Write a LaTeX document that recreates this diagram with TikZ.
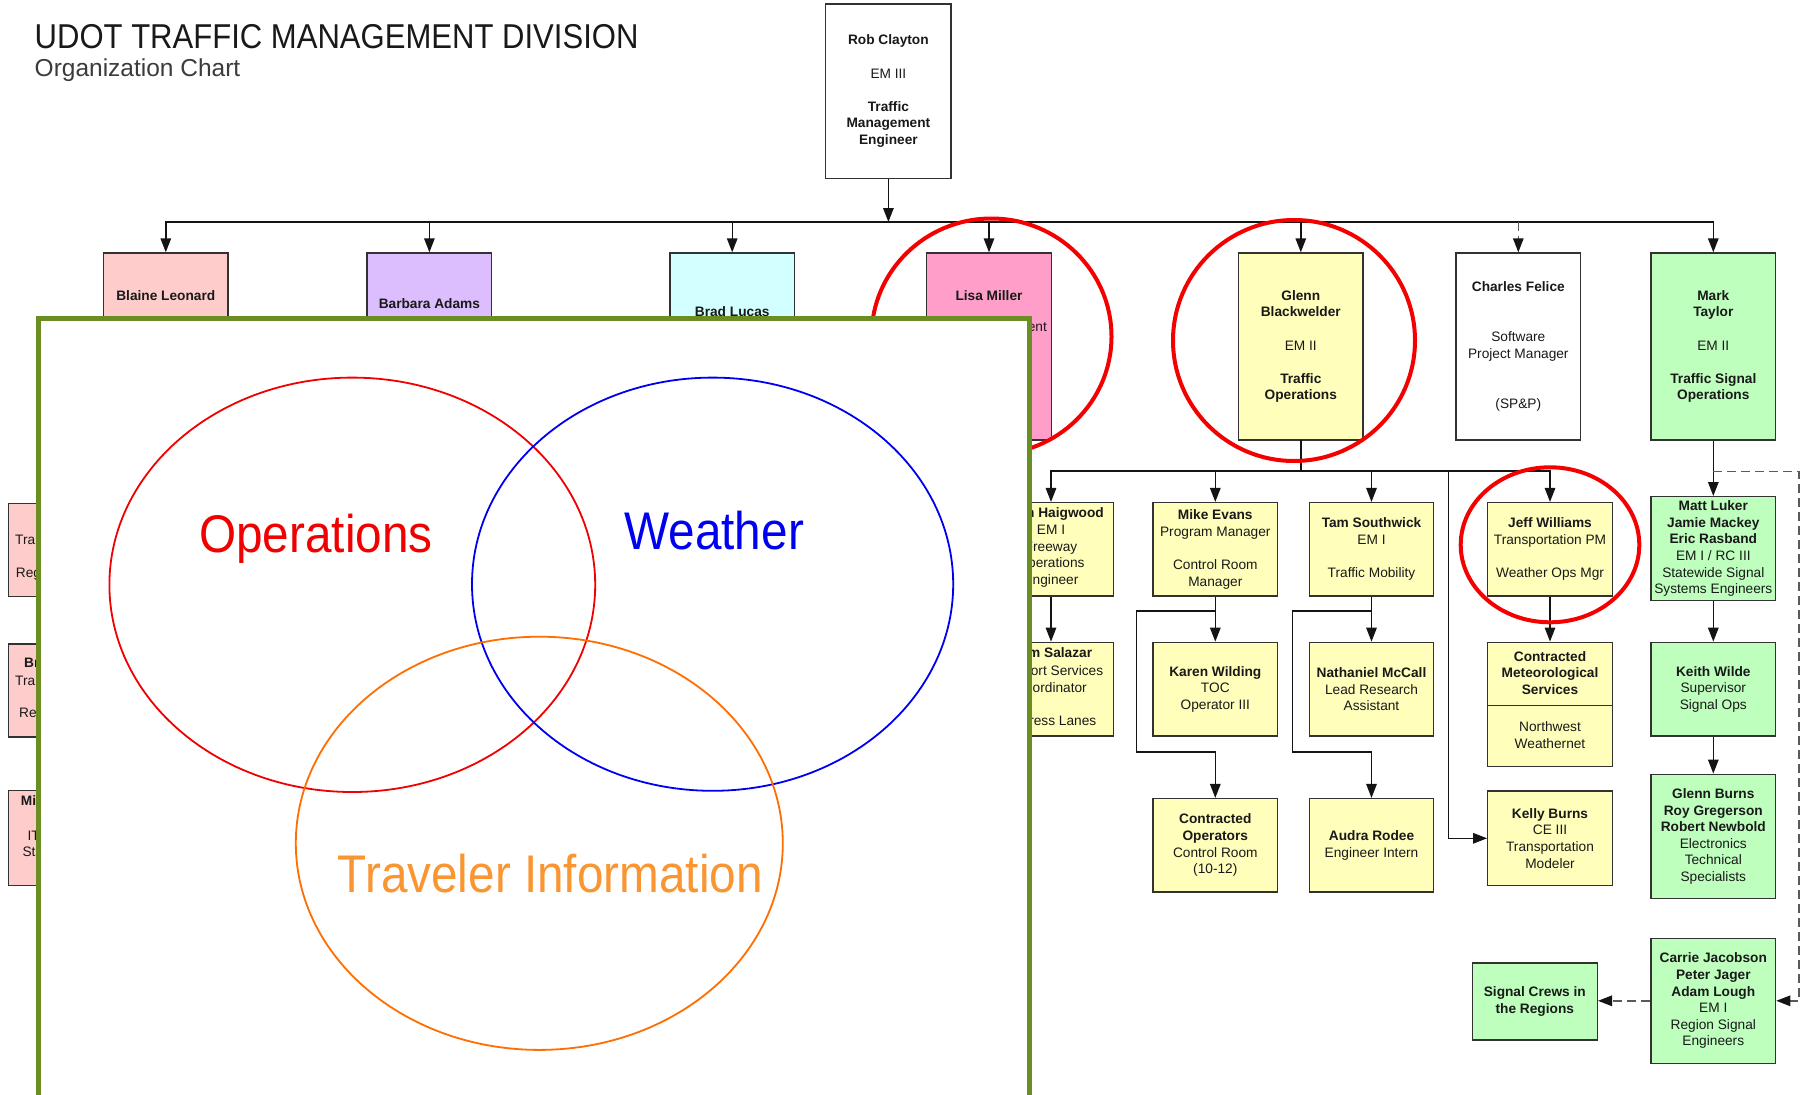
\documentclass[tikz,border=0pt]{standalone}
\usepackage{fontspec}
\setmainfont{Liberation Sans}
\newfontfamily\narrowfont[FakeStretch=0.9]{Liberation Sans}
\usetikzlibrary{arrows.meta}
\definecolor{pinkA}{RGB}{255,204,204}
\definecolor{lavA}{RGB}{220,190,255}
\definecolor{cyanA}{RGB}{210,255,255}
\definecolor{lisaC}{RGB}{255,158,200}
\definecolor{yelC}{RGB}{255,255,187}
\definecolor{greenC}{RGB}{190,255,190}
\definecolor{boxline}{RGB}{50,50,50}
\definecolor{linec}{RGB}{20,20,20}
\definecolor{dashc}{RGB}{90,90,90}
\definecolor{txtc}{RGB}{25,25,25}
\definecolor{hlred}{RGB}{245,0,0}
\definecolor{olive}{RGB}{107,142,35}
\definecolor{opred}{RGB}{240,0,0}
\definecolor{wxblue}{RGB}{0,0,240}
\definecolor{tiorange}{RGB}{255,110,0}
\definecolor{titext}{RGB}{250,150,50}
\definecolor{titlec}{RGB}{25,25,25}
\newcommand{\boxfnt}{\fontsize{13.7}{16.6}\selectfont}
\begin{document}
\begin{tikzpicture}[x=1pt,y=-1pt,
  box/.style={draw=boxline, line width=1.4pt, minimum width=124.5pt, inner sep=0pt, align=center, font=\boxfnt, text=txtc},
  txt/.style={inner sep=0pt, align=center, font=\boxfnt, text=txtc},
  conn/.style={draw=linec, line width=1.4pt, line cap=rect},
  arr/.style={draw=linec, line width=1.4pt, -{Triangle[length=14pt,width=10.5pt]}},
  dasharr/.style={draw=dashc, line width=1.4pt, dash pattern=on 9pt off 5pt, -{Triangle[length=14pt,width=10.5pt,color=linec]}},
  hl/.style={draw=hlred, line width=4pt},
  venn/.style={line width=1.8pt},
  vtext/.style={inner sep=0pt, anchor=base, font=\narrowfont\fontsize{53}{60}\selectfont}
]
\useasboundingbox (0,0) rectangle (1805,1095);
\fill[white] (0,0) rectangle (1805,1095);

% title
\node[anchor=base west, inner sep=0pt, font=\narrowfont\fontsize{34.5}{40}\selectfont, text=titlec] (title) at (34.5,48.4) {UDOT TRAFFIC MANAGEMENT DIVISION};
\node[anchor=base west, inner sep=0pt, font=\fontsize{24.5}{28}\selectfont, text=titlec!85] (subtitle) at (34.5,76) {Organization Chart};

% top
\node[box, fill=white, minimum width=125.3pt, minimum height=174.3pt] (rob) at (888.4,91.2) {\textbf{Rob Clayton}\\[16.6pt]EM III\\[16.6pt]\textbf{Traffic}\\\textbf{Management}\\\textbf{Engineer}};

% level 1
\node[box, fill=pinkA, minimum height=187pt] (blaine) at (165.8,346.5) {};
\node[txt] (blaineT) at (165.8,296) {\bfseries Blaine Leonard};
\node[box, fill=lavA, minimum height=187pt] (barbara) at (429.4,346.5) {};
\node[txt] (barbaraT) at (429.4,304) {\bfseries Barbara Adams};
\node[box, fill=cyanA, minimum height=187pt] (brad) at (732.2,346.5) {};
\node[txt] (bradT) at (732.2,311.7) {\bfseries Brad Lucas};
\node[box, fill=lisaC, minimum height=187pt] (lisa) at (989,346.5) {};
\node[txt] (lisaT) at (989,296) {\bfseries Lisa Miller};
\node[txt, anchor=mid east] (lisaF) at (1047,329.3) {ent};
\node[box, fill=yelC, minimum height=187pt] (glenn) at (1300.8,346.5) {\textbf{Glenn}\\\textbf{Blackwelder}\\[16.6pt]EM II\\[16.6pt]\textbf{Traffic}\\\textbf{Operations}};
\node[box, fill=white, minimum height=187pt] (charles) at (1518.3,346.5) {\textbf{Charles Felice}\\[33.2pt]Software\\Project Manager\\[33.2pt](SP\&P)};
\node[box, fill=greenC, minimum height=187pt] (mark) at (1713.3,346.5) {\textbf{Mark}\\\textbf{Taylor}\\[16.6pt]EM II\\[16.6pt]\textbf{Traffic Signal}\\\textbf{Operations}};

% left column (under Blaine)
\node[box, fill=pinkA, minimum height=93.3pt] (lb1) at (70.5,550) {};
\node[txt, anchor=mid west] (lb1a) at (15,541.7) {Tra};
\node[txt, anchor=mid west] (lb1b) at (15.7,575) {Reg};
\node[box, fill=pinkA, minimum height=93.3pt] (lb2) at (70.5,690.5) {};
\node[txt, anchor=mid west] (lb2a) at (24,665) {\bfseries Br};
\node[txt, anchor=mid west] (lb2b) at (15,683.3) {Tra};
\node[txt, anchor=mid west] (lb2c) at (19,715) {Re};
\node[box, fill=pinkA, minimum height=94.5pt] (lb3) at (70.5,838) {};
\node[txt, anchor=mid west] (lb3a) at (20.7,803.3) {\bfseries Mi};
\node[txt, anchor=mid west] (lb3b) at (27.3,838.3) {IT};
\node[txt, anchor=mid west] (lb3c) at (22.3,854.3) {St};

% level 2
\node[box, fill=yelC, minimum height=93.3pt] (haig) at (1051,549.3) {};
\node[txt, anchor=mid east] (haigN) at (1104,515) {\bfseries n Haigwood};
\node[txt] (haigT) at (1051,556.3) {EM I\\Freeway\\Operations\\Engineer};
\node[box, fill=yelC, minimum height=93.3pt] (mike) at (1215.3,549.3) {\textbf{Mike Evans}\\Program Manager\\[16.6pt]Control Room\\Manager};
\node[box, fill=yelC, minimum height=93.3pt] (tam) at (1371.5,549.3) {\textbf{Tam Southwick}\\EM I\\[16.6pt]Traffic Mobility};
\node[box, fill=yelC, minimum height=93.3pt] (jeff) at (1550,549.3) {\textbf{Jeff Williams}\\Transportation PM\\[16.6pt]Weather Ops Mgr};
\node[box, fill=greenC, minimum height=104pt] (matt) at (1713.3,548.7) {\textbf{Matt Luker}\\\textbf{Jamie Mackey}\\\textbf{Eric Rasband}\\EM I / RC III\\Statewide Signal\\Systems Engineers};

% level 3
\node[box, fill=yelC, minimum height=93.7pt] (sal) at (1051,689.2) {};
\node[txt, anchor=mid east] (salN) at (1092.3,655) {\bfseries m Salazar};
\node[txt] (salT) at (1051,697.2) {Support Services\\Coordinator\\[16.6pt]Express Lanes};
\node[box, fill=yelC, minimum height=93.7pt] (karen) at (1215.3,689.2) {\textbf{Karen Wilding}\\TOC\\Operator III};
\node[box, fill=yelC, minimum height=93.7pt] (nat) at (1371.5,689.2) {\textbf{Nathaniel McCall}\\Lead Research\\Assistant};
\node[box, fill=yelC, minimum height=124.4pt] (met) at (1550,704.5) {};
\coordinate (metdiv) at (1550,705.7);
\draw[draw=boxline, line width=1.4pt] (met.west |- metdiv) -- (met.east |- metdiv);
\node[txt] (metT) at (1550,672.9) {\textbf{Contracted}\\\textbf{Meteorological}\\\textbf{Services}};
\node[txt] (metB) at (1550,735) {Northwest\\Weathernet};
\node[box, fill=greenC, minimum height=93.7pt] (keith) at (1713.3,689.2) {\textbf{Keith Wilde}\\Supervisor\\Signal Ops};

% level 4
\node[box, fill=yelC, minimum height=93.3pt] (conop) at (1215.3,845.3) {\textbf{Contracted}\\\textbf{Operators}\\Control Room\\(10-12)};
\node[box, fill=yelC, minimum height=93.3pt] (audra) at (1371.5,845.3) {\textbf{Audra Rodee}\\Engineer Intern};
\node[box, fill=yelC, minimum height=94.7pt] (kelly) at (1550,838.3) {\textbf{Kelly Burns}\\CE III\\Transportation\\Modeler};
\node[box, fill=greenC, minimum height=124.4pt] (gburns) at (1713.3,836.5) {\textbf{Glenn Burns}\\\textbf{Roy Gregerson}\\\textbf{Robert Newbold}\\Electronics\\Technical\\Specialists};

% level 5
\node[box, fill=greenC, minimum height=125pt] (carrie) at (1713.3,1000.8) {\textbf{Carrie Jacobson}\\\textbf{Peter Jager}\\\textbf{Adam Lough}\\EM I\\Region Signal\\Engineers};
\node[box, fill=greenC, minimum width=125pt, minimum height=76.7pt] (crews) at (1534.8,1001.5) {\textbf{Signal Crews in}\\\textbf{the Regions}};

% connectors top
\coordinate (busA) at (888.4,222);
\draw[conn] (blaine.north |- busA) -- (mark.north |- busA);
\draw[arr] (rob.south) -- (busA);
\foreach \n in {blaine,barbara,brad,lisa,glenn,mark}{\draw[arr] (\n.north |- busA) -- (\n.north);}
\draw[dasharr] (charles.north |- busA) -- (charles.north);

% connectors under Glenn
\coordinate (busB) at (1300.8,471);
\draw[conn] (glenn.south) -- (busB);
\draw[conn] (haig.north |- busB) -- (jeff.north |- busB);
\foreach \n in {haig,mike,tam,jeff}{\draw[arr] (\n.north |- busB) -- (\n.north);}
\coordinate (kellyTurn) at (1448.3,471);
\draw[arr] (kellyTurn) |- (kelly.west);
\draw[arr] (haig.south) -- (sal.north);
\draw[arr] (mike.south) -- (karen.north);
\coordinate (mikeJ) at (1215.3,611);
\coordinate (mikeL) at (1136.3,752);
\draw[arr] (mikeJ) -| (mikeL) -| (conop.north);
\draw[arr] (tam.south) -- (nat.north);
\coordinate (tamJ) at (1371.5,611);
\coordinate (tamL) at (1292.7,752);
\draw[arr] (tamJ) -| (tamL) -| (audra.north);
\draw[arr] (jeff.south) -- (met.north);

% signal column
\draw[arr] (mark.south) -- (matt.north);
\draw[arr] (matt.south) -- (keith.north);
\draw[arr] (keith.south) -- (gburns.north);
\coordinate (dashJ) at (1713.3,471.7);
\coordinate (dashR) at (1799,1000.8);
\draw[dasharr] (dashJ) -| (dashR) -- (carrie.east);
\draw[dasharr] (carrie.west) -- (carrie.west -| crews.east);

% highlight ellipses
\draw[hl] (991.5,336.5) ellipse [x radius=120pt, y radius=118pt];
\draw[hl] (1294,340.5) ellipse [x radius=121pt, y radius=120.5pt];
\draw[hl] (1550,544.8) ellipse [x radius=89.3pt, y radius=77.5pt];

% overlay panel
\draw[draw=olive, line width=5pt, fill=white] (38,318) rectangle (1029.5,1098);

% venn
\draw[venn, draw=opred] (352.3,584.8) ellipse [x radius=242.9pt, y radius=207.2pt];
\draw[venn, draw=wxblue] (712.6,584.2) ellipse [x radius=240.6pt, y radius=206.6pt];
\draw[venn, draw=tiorange] (539.3,843.3) ellipse [x radius=243.5pt, y radius=206.6pt];
\node[vtext, text=opred] (opsL) at (316,552) {Operations};
\node[vtext, text=wxblue] (wxL) at (714.2,549) {Weather};
\node[vtext, text=titext] (tiL) at (550.3,892) {Traveler Information};
\end{tikzpicture}
\end{document}
